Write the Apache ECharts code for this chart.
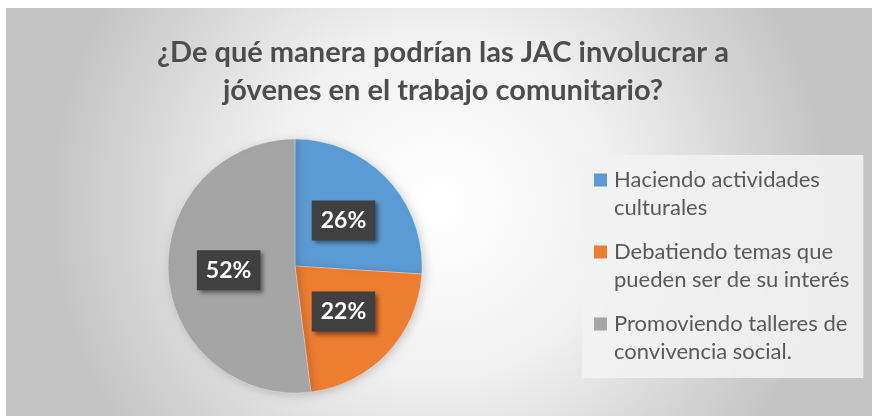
<!DOCTYPE html>
<html>
<head>
<meta charset="utf-8">
<script src="https://cdn.jsdelivr.net/npm/echarts@6/dist/echarts.min.js"></script>
<style>
  html, body { margin: 0; padding: 0; background: #fff; }
  #chart { width: 872px; height: 416px; }
</style>
</head>
<body>
<div id="chart"></div>
<script>
const TITLE = '¿De qué manera podrían las JAC involucrar a\njóvenes en el trabajo comunitario?'
const categories = ['Haciendo actividades culturales', 'Debatiendo temas que pueden ser de su interés', 'Promoviendo talleres de convivencia social.']
const legendLines = [['Haciendo actividades', 'culturales'], ['Debatiendo temas que', 'pueden ser de su interés'], ['Promoviendo talleres de', 'convivencia social.']]
const values = [26, 22, 52]
const colors = ['#5B9BD5', '#ED7D31', '#A5A5A5']

const FONT = 'Lato, "Open Sans", sans-serif'

const chart = echarts.init(document.getElementById('chart'), null, { renderer: 'canvas' })

const rich = {
  gap: { width: 7 },
  ind: { width: 20 },
}
colors.forEach((c, i) => { rich['s' + i] = { width: 13, height: 13, backgroundColor: c } })

chart.setOption({
  animation: false,
  backgroundColor: '#ffffff',
  graphic: [{
    type: 'rect',
    z: -10,
    shape: { x: 6, y: 8, width: 866, height: 408 },
    style: {
      fill: new echarts.graphic.RadialGradient(0.5, 0.48, 0.95, [
        { offset: 0, color: '#ffffff' },
        { offset: 0.45, color: '#f1f1f1' },
        { offset: 1, color: '#c4c4c4' },
      ]),
    },
  }],
  title: {
    text: TITLE,
    left: 438,
    top: 29,
    textAlign: 'center',
    textStyle: {
      fontFamily: FONT,
      fontSize: 29,
      fontWeight: 'bold',
      color: '#4d4d4d',
      lineHeight: 38,
    },
  },
  legend: {
    orient: 'vertical',
    left: 582,
    top: 155,
    padding: [11, 14, 12, 7],
    itemWidth: 0,
    itemHeight: 0,
    itemGap: 16,
    icon: 'none',
    backgroundColor: 'rgba(242,242,242,0.9)',
    data: categories,
    formatter: name => {
      const i = categories.indexOf(name)
      const [a, b] = legendLines[i]
      return `{s${i}|}{gap|}${a}\n{ind|}${b}`
    },
    textStyle: {
      fontFamily: FONT,
      fontSize: 22,
      lineHeight: 28,
      color: '#595959',
      rich,
    },
  },
  series: [{
    type: 'pie',
    center: [295, 266],
    radius: 127,
    startAngle: 90,
    clockwise: true,
    color: colors,
    data: categories.map((c, i) => ({ name: c, value: values[i] })),
    itemStyle: {
      borderColor: 'rgba(255,255,255,0.6)',
      borderWidth: 0.5,
      shadowBlur: 10,
      shadowColor: 'rgba(0,0,0,0.18)',
      shadowOffsetX: 2,
      shadowOffsetY: 2,
    },
    label: {
      position: 'inside',
      formatter: p => p.value + '%',
      fontFamily: FONT,
      fontSize: 23,
      fontWeight: 'bold',
      color: '#ffffff',
      backgroundColor: '#404040',
      padding: [9, 9, 8, 9],
      shadowBlur: 4,
      shadowColor: 'rgba(0,0,0,0.45)',
      shadowOffsetX: 3,
      shadowOffsetY: 3,
    },
    labelLine: { show: false },
    emphasis: { disabled: true },
  }],
})
</script>
</body>
</html>
